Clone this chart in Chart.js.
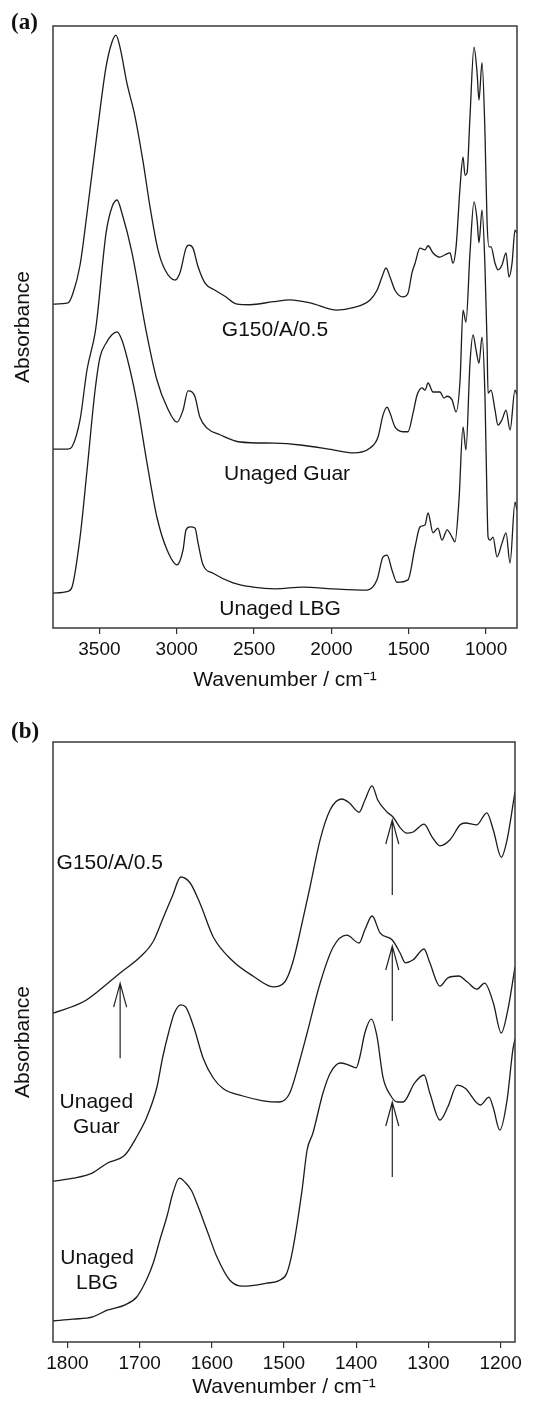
<!DOCTYPE html>
<html>
<head>
<meta charset="utf-8">
<script src="https://cdn.jsdelivr.net/npm/chart.js@4"></script>
<style>
html, body { margin: 0; padding: 0; background: #fff; }
#wrap { position: relative; width: 542px; height: 1407px; }
.panel { position: absolute; left: 0; width: 542px; }
#p1 { top: 0; height: 700px; }
#p2 { top: 700px; height: 707px; }
</style>
</head>
<body>
<div id="wrap">
  <div class="panel" id="p1"><canvas id="graficaA"></canvas></div>
  <div class="panel" id="p2"><canvas id="graficaB"></canvas></div>
</div>
<script>
// ---- panel (a): espectro completo ----
const ticksA = [3500, 3000, 2500, 2000, 1500, 1000];
const wnG150A = [3800,3703,3671,3625,3580,3515,3457,3419,3393,3367,3322,3270,3218,3173,3121,3076,3011,2979,2940,2921,2895,2862,2817,2752,2688,2610,2526,2377,2268,2138,1964,1860,1750,1705,1673,1647,1621,1589,1537,1505,1479,1459,1427,1395,1375,1343,1298,1265,1233,1214,1194,1168,1149,1136,1123,1104,1078,1058,1046,1026,1007,994,981,968,942,923,897,871,852,832,813,800];
const absG150A = [53.8,54.0,55.6,60.3,68.9,82.2,93.2,97.3,98.5,96.5,90.5,85.0,77.5,70.0,62.8,59.5,57.8,59.0,63.1,63.6,63.1,60.0,57.3,56.1,55.1,53.8,53.7,54.2,54.5,54.0,52.8,53.2,54.5,56.1,58.3,59.8,58.3,56.1,55.0,55.6,59.0,60.6,63.1,62.8,63.5,62.3,61.6,62.0,62.3,60.6,63.3,73.3,78.2,75.2,75.6,84.9,96.5,92.2,87.7,93.9,82.2,67.8,63.3,63.3,60.6,59.5,60.3,62.3,58.3,60.6,66.1,65.6];
const wnGuarA = [3800,3703,3677,3625,3580,3528,3515,3457,3419,3386,3354,3289,3199,3128,3063,2998,2959,2927,2901,2882,2850,2804,2720,2591,2365,2203,1990,1860,1750,1699,1666,1640,1621,1589,1537,1505,1472,1446,1414,1395,1375,1343,1317,1298,1272,1252,1220,1194,1168,1149,1130,1104,1078,1058,1046,1026,1007,994,987,968,942,923,897,871,845,813,800];
const absGuarA = [29.7,29.7,30.1,34.6,42.9,49.0,51.5,65.6,69.9,71.1,68.9,62.3,49.5,41.2,36.7,34.2,36.2,39.4,39.2,38.4,35.0,33.2,32.1,30.9,30.7,30.4,29.6,29.1,29.9,31.7,35.4,36.7,35.7,33.4,32.6,32.6,35.7,38.7,39.9,39.5,40.7,39.2,39.2,39.2,38.2,38.5,37.9,35.9,41.2,52.8,50.8,62.3,70.8,67.8,64.0,69.4,60.0,47.8,39.0,39.5,36.2,33.7,34.6,36.2,32.9,39.5,38.7];
const wnLbgA = [3800,3703,3677,3625,3580,3528,3496,3457,3419,3386,3354,3302,3257,3192,3128,3063,2998,2959,2940,2914,2882,2862,2830,2765,2636,2507,2365,2184,1990,1770,1705,1666,1640,1608,1576,1505,1459,1427,1395,1375,1343,1311,1285,1252,1220,1201,1175,1149,1130,1104,1084,1065,1046,1026,1007,994,987,974,955,929,897,871,845,813,800];
const absLbgA = [5.8,6.1,6.8,15.1,26.2,39.5,45.0,47.3,48.7,49.2,47.8,42.9,37.4,27.4,18.4,13.0,10.5,13.0,16.3,16.8,16.6,14.1,10.5,9.1,7.5,6.8,6.5,6.8,6.5,6.3,8.0,11.8,12.1,9.6,7.6,8.0,13.5,16.8,17.1,19.1,15.8,16.6,14.6,16.3,15.1,14.3,21.3,33.4,29.6,44.0,48.7,46.2,44.0,48.3,38.4,21.3,15.1,14.6,15.1,11.8,14.1,15.8,10.8,20.9,19.6];

// ---- panel (b): zona 1820-1180 ----
const ticksB = [1800, 1700, 1600, 1500, 1400, 1300, 1200];
const wnG150B = [1820,1778,1755,1727,1699,1681,1668,1654,1643,1630,1616,1598,1571,1543,1515,1499,1488,1475,1464,1450,1436,1420,1409,1396,1388,1378,1370,1357,1349,1339,1330,1321,1306,1295,1284,1270,1256,1249,1233,1219,1210,1199,1191,1180];
const absG150B = [54.8,56.7,58.7,61.5,64.2,66.8,70.5,74.5,77.5,76.5,73.0,67.5,63.5,61.0,59.2,60.0,63.2,69.8,75.8,83.7,88.7,90.5,89.8,88.3,90.3,92.7,90.3,88.3,87.5,85.7,84.8,85.0,86.3,84.2,82.7,83.7,86.2,86.5,86.2,88.2,85.3,80.8,83.7,91.7];
const wnGuarB = [1820,1792,1765,1745,1720,1704,1690,1676,1668,1660,1652,1643,1636,1625,1612,1598,1584,1557,1529,1506,1492,1478,1468,1450,1432,1413,1396,1388,1378,1367,1350,1339,1332,1321,1306,1298,1284,1273,1258,1246,1233,1222,1210,1199,1190,1180];
const absGuarB = [26.8,27.3,28.2,29.8,31.2,34.2,37.5,42.5,47.5,51.5,54.8,56.2,55.8,52.5,47.3,44.0,42.2,41.0,40.2,40.0,41.5,47.0,51.5,59.8,65.8,67.8,66.5,68.7,71.0,68.2,67.0,64.8,63.2,63.7,65.5,63.2,59.3,60.7,61.0,60.0,58.8,59.8,56.5,51.5,55.3,62.5];
const wnLbgB = [1820,1792,1765,1745,1720,1704,1690,1681,1672,1662,1654,1645,1636,1628,1621,1607,1593,1575,1557,1524,1506,1496,1488,1475,1468,1460,1446,1436,1422,1411,1400,1395,1388,1379,1371,1363,1353,1343,1335,1319,1306,1298,1284,1273,1260,1249,1228,1216,1210,1201,1191,1183,1180];
const absLbgB = [3.5,3.8,4.2,5.3,6.2,7.5,10.5,13.2,17.0,21.0,24.8,27.3,26.5,25.2,23.2,18.7,14.2,10.3,9.3,9.8,10.3,11.5,15.3,25.3,32.0,34.8,41.5,44.8,46.5,46.2,45.7,47.5,51.5,53.8,50.8,44.2,41.2,40.0,40.0,43.2,44.5,41.5,37.0,39.2,42.8,42.3,39.5,40.8,39.0,35.3,40.3,48.7,50.5];

// flechas (posicion en unidades del grafico)
const flechasB = [
  {wn: 1727, desde: 47.3, hasta: 59.8},
  {wn: 1350, desde: 74.5, hasta: 87.0},
  {wn: 1350, desde: 53.5, hasta: 66.0},
  {wn: 1350, desde: 27.5, hasta: 40.0},
];

const fuente = '"Liberation Sans", Arial, Helvetica, sans-serif';
const negro = '#1c1c1c';

const pares = (xs, ys) => xs.map((x, i) => ({x: x, y: ys[i]}));
const serie = (xs, ys) => ({
  data: pares(xs, ys),
  borderColor: negro,
  borderWidth: 1.3,
  pointRadius: 0,
  cubicInterpolationMode: 'monotone',
  fill: false,
});

//marco, textos y flechas
const marco = {
  id: 'marco',
  afterDraw(chart, args, opts) {
    const {ctx, chartArea: a} = chart;
    const sx = chart.scales.x, sy = chart.scales.y;
    ctx.save();
    ctx.strokeStyle = '#3a3a3a';
    ctx.lineWidth = 1.5;
    ctx.strokeRect(a.left, a.top, a.right - a.left, a.bottom - a.top);
    ctx.fillStyle = '#111';
    ctx.font = '21px ' + fuente;
    ctx.textBaseline = 'middle';
    (opts.textos || []).forEach(t => {
      ctx.textAlign = t.align || 'center';
      t.lineas.forEach((l, i) => ctx.fillText(l, sx.getPixelForValue(t.wn), sy.getPixelForValue(t.abs) + i * 25));
    });
    ctx.strokeStyle = '#222';
    ctx.lineWidth = 1.2;
    (opts.flechas || []).forEach(f => {
      const x = sx.getPixelForValue(f.wn);
      const y0 = sy.getPixelForValue(f.desde);
      const y1 = sy.getPixelForValue(f.hasta);
      ctx.beginPath();
      ctx.moveTo(x, y0); ctx.lineTo(x, y1);
      ctx.moveTo(x - 6.5, y1 + 24); ctx.lineTo(x, y1); ctx.lineTo(x + 6.5, y1 + 24);
      ctx.stroke();
    });
    ctx.font = 'bold 23px "Liberation Serif", "Times New Roman", serif';
    ctx.textAlign = 'left';
    ctx.fillText(opts.letra, 11, opts.letraY);
    ctx.restore();
  }
};

function ejes(min, max, ticks, altoX) {
  return {
    x: {
      type: 'linear', reverse: true, min: min, max: max,
      afterFit: s => { s.height = altoX; },
      afterBuildTicks: s => { s.ticks = ticks.map(v => ({value: v})); },
      grid: {display: true, drawOnChartArea: false, drawTicks: true, tickLength: 6, color: '#333', lineWidth: 1.2},
      border: {display: false},
      ticks: {color: '#111', font: {size: 19, family: fuente}, padding: 4, maxRotation: 0, callback: v => String(v)},
      title: {display: true, text: 'Wavenumber / cm\u207B\u00B9', color: '#111', font: {size: 21, family: fuente}, padding: {top: 0, bottom: 7}}
    },
    y: {
      min: 0, max: 100,
      afterFit: s => { s.width = 53; },
      grid: {display: false},
      border: {display: false},
      ticks: {display: false},
      title: {display: true, text: 'Absorbance', color: '#111', font: {size: 21, family: fuente}, padding: {top: 10.4, bottom: 0}}
    }
  };
}

let graficoA = new Chart(document.querySelector('#graficaA'), {
  type: 'line',
  data: {
    datasets: [
      serie(wnG150A, absG150A),
      serie(wnGuarA, absGuarA),
      serie(wnLbgA, absLbgA),
    ]
  },
  options: {
    responsive: true, maintainAspectRatio: false, animation: false,
    layout: {padding: {left: 0, right: 25, top: 26, bottom: 0}},
    scales: ejes(800, 3800, ticksA, 72),
    plugins: {
      legend: {display: false}, tooltip: {enabled: false},
      marco: {
        letra: '(a)', letraY: 23,
        textos: [
          {lineas: ['G150/A/0.5'], wn: 2365, abs: 49.5},
          {lineas: ['Unaged Guar'], wn: 2287, abs: 25.6},
          {lineas: ['Unaged LBG'], wn: 2332, abs: 3.2},
        ]
      }
    }
  },
  plugins: [marco]
});

let graficoB = new Chart(document.querySelector('#graficaB'), {
  type: 'line',
  data: {
    datasets: [
      serie(wnG150B, absG150B),
      serie(wnGuarB, absGuarB),
      serie(wnLbgB, absLbgB),
    ]
  },
  options: {
    responsive: true, maintainAspectRatio: false, animation: false,
    layout: {padding: {left: 0, right: 27, top: 42, bottom: 0}},
    scales: ejes(1180, 1820, ticksB, 65),
    plugins: {
      legend: {display: false}, tooltip: {enabled: false},
      marco: {
        letra: '(b)', letraY: 32,
        flechas: flechasB,
        textos: [
          {lineas: ['G150/A/0.5'], wn: 1815, abs: 79.8, align: 'left'},
          {lineas: ['Unaged', 'Guar'], wn: 1760, abs: 40.0},
          {lineas: ['Unaged', 'LBG'], wn: 1759, abs: 14.0},
        ]
      }
    }
  },
  plugins: [marco]
});
</script>
</body>
</html>
